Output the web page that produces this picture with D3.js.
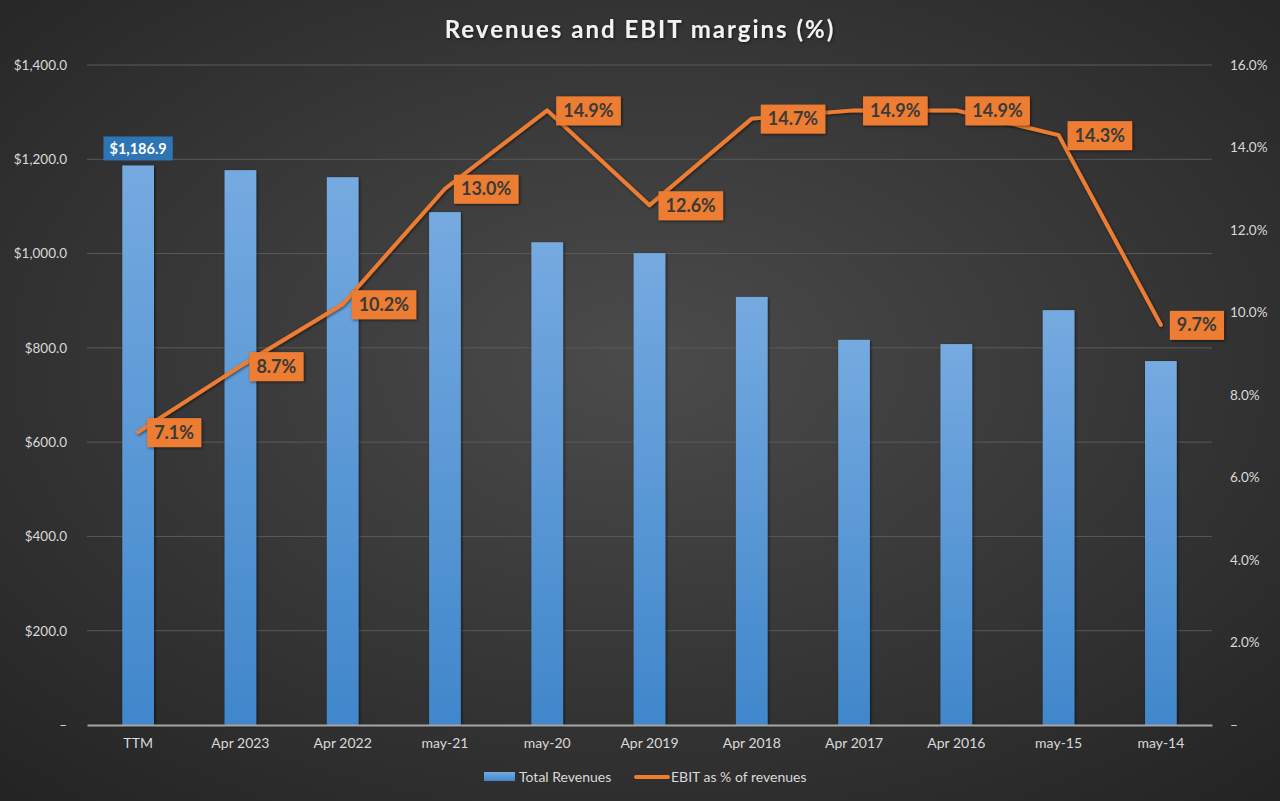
<!DOCTYPE html>
<html><head><meta charset="utf-8">
<script src="https://cdn.jsdelivr.net/npm/d3@7"></script>
<style>html,body{margin:0;padding:0;background:#2b2b2b;}svg{display:block;}</style>
</head><body>
<script>
const categories = ["TTM","Apr 2023","Apr 2022","may-21","may-20","Apr 2019","Apr 2018","Apr 2017","Apr 2016","may-15","may-14"];
const revenues = [1186.9,1177,1162,1088,1024,1001,908,817,808,880,772];
const ebitMargin = [7.1,8.7,10.2,13.0,14.9,12.6,14.7,14.9,14.9,14.3,9.7];
const leftTicks = [0,200,400,600,800,1000,1200,1400];
const rightTicks = [0,2,4,6,8,10,12,14,16];
const seriesNames = ["Total Revenues","EBIT as % of revenues"];
const title = "Revenues and EBIT margins (%)";

const W=1280,H=801, L=87, R=1212, T=65, B=725;
const font = "Lato, 'Open Sans', sans-serif";
const svg = d3.select("body").append("svg").attr("width",W).attr("height",H);
const defs = svg.append("defs");
const rg = defs.append("radialGradient").attr("id","bg").attr("cx","50%").attr("cy","45%").attr("r","75%");
rg.append("stop").attr("offset","0%").attr("stop-color","#4b4b4b");
rg.append("stop").attr("offset","100%").attr("stop-color","#232323");
const bg = defs.append("linearGradient").attr("id","bar").attr("x1",0).attr("x2",0).attr("y1",0).attr("y2",1);
bg.append("stop").attr("offset","0%").attr("stop-color","#75aae0");
bg.append("stop").attr("offset","100%").attr("stop-color","#4087cb");
const sh = defs.append("filter").attr("id","sh").attr("x","-20%").attr("y","-20%").attr("width","140%").attr("height","140%");
sh.append("feDropShadow").attr("dx",1).attr("dy",1).attr("stdDeviation",1.5).attr("flood-color","#000").attr("flood-opacity",0.6);

svg.append("rect").attr("width",W).attr("height",H).attr("fill","url(#bg)");

const x = d3.scaleBand().domain(categories).range([L,R]).paddingInner(0.69).paddingOuter(0.345);
const yL = d3.scaleLinear().domain([0,1400]).range([B,T]);
const yR = d3.scaleLinear().domain([0,16]).range([B,T]);

// gridlines
svg.append("g").selectAll("line").data(leftTicks.filter(d=>d>0)).join("line")
  .attr("x1",L).attr("x2",R).attr("y1",d=>yL(d)).attr("y2",d=>yL(d))
  .attr("stroke","#5a5a5a").attr("stroke-width",1);

// left axis
const gl = svg.append("g").attr("transform",`translate(${L},0)`)
  .call(d3.axisLeft(yL).tickValues(leftTicks).tickSize(0).tickPadding(20)
    .tickFormat(d=> d===0 ? "–" : "$"+d3.format(",.1f")(d)));
gl.select(".domain").remove();
gl.selectAll("text").attr("fill","#d9d9d9").style("font-family",font).style("font-size","13.5px");

// right axis
const gr = svg.append("g").attr("transform",`translate(${R},0)`)
  .call(d3.axisRight(yR).tickValues(rightTicks).tickSize(0).tickPadding(18)
    .tickFormat(d=> d===0 ? "–" : d3.format(".1f")(d)+"%"));
gr.select(".domain").remove();
gr.selectAll("text").attr("fill","#d9d9d9").style("font-family",font).style("font-size","13.5px");

// bars
svg.append("g").selectAll("rect").data(revenues).join("rect")
  .attr("x",(d,i)=>x(categories[i])).attr("width",x.bandwidth())
  .attr("y",d=>yL(d)).attr("height",d=>B-yL(d))
  .attr("fill","url(#bar)").attr("filter","url(#sh)");

// x axis
const gx = svg.append("g").attr("transform",`translate(0,${B})`)
  .call(d3.axisBottom(x).tickSize(0).tickPadding(13));
gx.select(".domain").attr("stroke","#a6a6a6").attr("stroke-width",2);
gx.selectAll("text").attr("fill","#d9d9d9").style("font-family",font).style("font-size","14px");

// line
const cx = i => x(categories[i]) + x.bandwidth()/2;
svg.append("path").datum(ebitMargin)
  .attr("d", d3.line().x((d,i)=>cx(i)).y(d=>yR(d)))
  .attr("fill","none").attr("stroke","#ed7d31").attr("stroke-width",4)
  .attr("stroke-linejoin","round").attr("stroke-linecap","round").attr("filter","url(#sh)");

// line labels
const lg = svg.append("g");
ebitMargin.forEach((v,i)=>{
  const g = lg.append("g");
  const t = g.append("text").text(d3.format(".1f")(v)+"%")
    .attr("x", cx(i)+16).attr("y", yR(v)).attr("dy","0.36em")
    .attr("fill","#3a3a3a").style("font-family",font).style("font-size","18px").style("font-weight","bold");
  const bb = t.node().getBBox();
  g.insert("rect","text").attr("x",bb.x-7).attr("y",yR(v)-14).attr("width",bb.width+14).attr("height",29)
    .attr("fill","#ed7d31").attr("filter","url(#sh)");
});

// bar label for first
{
  const i=0, v=revenues[0];
  const g = svg.append("g");
  const t = g.append("text").text("$"+d3.format(",.1f")(v))
    .attr("x", cx(i)).attr("y", yL(v)-17).attr("dy","0.36em").attr("text-anchor","middle")
    .attr("fill","#ffffff").style("font-family",font).style("font-size","14.5px").style("font-weight","bold");
  const bb = t.node().getBBox();
  g.insert("rect","text").attr("x",bb.x-6).attr("y",yL(v)-29).attr("width",bb.width+12).attr("height",24)
    .attr("fill","#2e75b6");
}

// title
svg.append("text").text(title).attr("x",640).attr("y",38).attr("text-anchor","middle")
  .attr("fill","#f2f2f2").style("font-family",font).style("font-size","24px").style("font-weight","bold")
  .style("letter-spacing","2px").attr("filter","url(#sh)");

// legend
const leg = svg.append("g");
leg.append("rect").attr("x",484).attr("y",772).attr("width",31).attr("height",9).attr("fill","url(#bar)");
leg.append("text").text(seriesNames[0]).attr("x",519).attr("y",777).attr("dy","0.36em")
  .attr("fill","#d9d9d9").style("font-family",font).style("font-size","14px");
leg.append("line").attr("x1",636).attr("x2",668).attr("y1",777).attr("y2",777)
  .attr("stroke","#ed7d31").attr("stroke-width",4).attr("stroke-linecap","round");
leg.append("text").text(seriesNames[1]).attr("x",671).attr("y",777).attr("dy","0.36em")
  .attr("fill","#d9d9d9").style("font-family",font).style("font-size","14px");
</script>
</body></html>
